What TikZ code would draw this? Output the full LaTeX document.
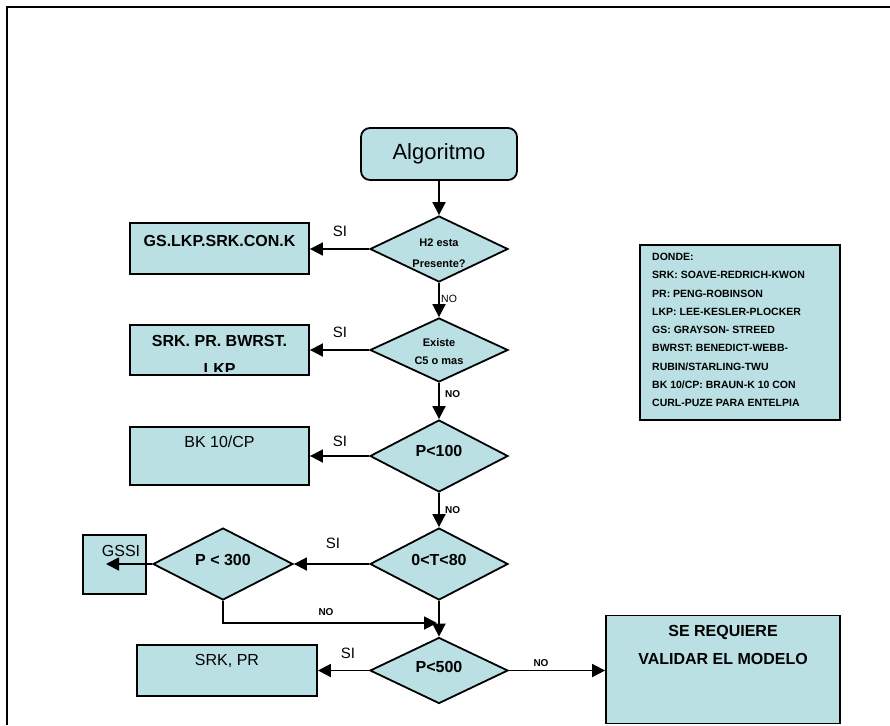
\documentclass[tikz,border=0pt]{standalone}
\usepackage{fontspec}
\setmainfont{Liberation Sans}
\usetikzlibrary{shapes.geometric,arrows.meta}
\definecolor{boxfill}{RGB}{186,224,227}
\tikzset{
  box/.style={draw=black,line width=1.8pt,fill=boxfill,inner sep=0pt},
  decision/.style={diamond,draw=black,line width=1.8pt,fill=boxfill,inner sep=0pt},
  conn/.style={line width=1.8pt,-{Triangle[length=13pt,width=13pt]}},
  boxtxt/.style={font=\fontsize{16}{18}\selectfont\bfseries,inner sep=0pt},
  boxtxtn/.style={font=\fontsize{16}{18}\selectfont,inner sep=0pt},
  dtxt/.style={font=\fontsize{11}{13}\selectfont\bfseries,inner sep=0pt},
  dbig/.style={font=\fontsize{16}{18}\selectfont\bfseries,inner sep=0pt},
  silbl/.style={font=\fontsize{15}{17}\selectfont,inner sep=0pt},
  nolbl/.style={font=\fontsize{10}{12}\selectfont\bfseries,inner sep=0pt},
  nolbln/.style={font=\fontsize{10.5}{12}\selectfont,inner sep=0pt},
  legtxt/.style={font=\fontsize{10.5}{12}\selectfont\bfseries,inner sep=0pt,anchor=west}
}
\begin{document}
\begin{tikzpicture}[x=1pt,y=-1pt]
\useasboundingbox (0,0) rectangle (890,725);
% outer frame
\draw[line width=2pt] (7,725) -- (7,7) -- (890,7);

% start
\node[box,rounded corners=9pt,minimum width=156pt,minimum height=52pt,font=\fontsize{22}{24}\selectfont] (alg) at (439,154) {Algoritmo};

% decisions
\node[decision,minimum width=138pt,minimum height=66pt] (d1) at (439,249) {};
\node[decision,minimum width=138pt,minimum height=64pt] (d2) at (439,350) {};
\node[decision,minimum width=138pt,minimum height=72pt] (d3) at (439,456) {};
\node[decision,minimum width=138pt,minimum height=72pt] (d4) at (439,564) {};
\node[decision,minimum width=140pt,minimum height=72pt] (d5) at (223,564) {};
\node[decision,minimum width=138pt,minimum height=66pt] (d6) at (439,670.5) {};

% decision texts
\node[dtxt] (t1a) at (439,243) {H2 esta};
\begin{scope}
  \clip (380,250) rectangle (500,266);
  \node[dtxt] (t1b) at (439,263.5) {Presente?};
\end{scope}
\node[dtxt] (t2a) at (439,343) {Existe};
\node[dtxt] (t2b) at (439,361) {C5 o mas};
\node[dbig] (t3) at (439,451) {P<100};
\node[dbig] (t4) at (439,560) {0<T<80};
\node[dbig] (t5) at (223,560) {P < 300};
\node[dbig] (t6) at (439,667) {P<500};

% result boxes
\node[box,minimum width=179pt,minimum height=51pt] (b1) at (219.5,248.5) {};
\node[box,minimum width=179pt,minimum height=50pt] (b2) at (219.5,350) {};
\node[box,minimum width=179pt,minimum height=58pt] (b3) at (219.5,456) {};
\node[box,minimum width=63pt,minimum height=59pt] (b4) at (114.5,564.5) {};
\node[box,minimum width=180pt,minimum height=51pt] (b5) at (227,670.5) {};
\node[box,minimum width=234pt,minimum height=108pt] (b6) at (723,669.5) {};
\node[box,minimum width=200pt,minimum height=175pt] (b7) at (740,332.5) {};

% box texts
\node[boxtxt] (x1) at (219.5,241) {GS.LKP.SRK.CON.K};
\node[boxtxt] (x2) at (219.5,341) {SRK. PR. BWRST.};
\begin{scope}
  \clip (140,355) rectangle (300,371);
  \node[boxtxt] (x2b) at (219.5,368.5) {LKP};
\end{scope}
\node[boxtxtn] (x3) at (219.5,442) {BK 10/CP};
\node[boxtxtn] (x4) at (121,551) {GSSI};
\node[boxtxtn] (x5) at (227,661) {SRK, PR};
\node[boxtxt] (x6a) at (723,632) {SE REQUIERE};
\node[boxtxt] (x6b) at (723,659) {VALIDAR EL MODELO};

% legend
\node[legtxt] (l1) at (652,257) {DONDE:};
\node[legtxt] (l2) at (652,275) {SRK: SOAVE-REDRICH-KWON};
\node[legtxt] (l3) at (652,293.5) {PR: PENG-ROBINSON};
\node[legtxt] (l4) at (652,312) {LKP: LEE-KESLER-PLOCKER};
\node[legtxt] (l5) at (652,330) {GS: GRAYSON- STREED};
\node[legtxt] (l6) at (652,348) {BWRST: BENEDICT-WEBB-};
\node[legtxt] (l7) at (652,366.5) {RUBIN/STARLING-TWU};
\node[legtxt] (l8) at (652,385) {BK 10/CP: BRAUN-K 10 CON};
\node[legtxt] (l9) at (652,403) {CURL-PUZE PARA ENTELPIA};

% connectors
\draw[conn] (alg.south) -- (d1.north);
\draw[conn] (d1.west) -- (d1.west -| b1.east);
\draw[conn] (d1.south) -- (d2.north);
\draw[conn] (d2.west) -- (d2.west -| b2.east);
\draw[conn] (d2.south) -- (d3.north);
\draw[conn] (d3.west) -- (d3.west -| b3.east);
\draw[conn] (d3.south) -- (d4.north);
\draw[conn] (d4.west) -- (d5.east);
\coordinate (gin) at (106,564);
\draw[conn] (d5.west) -- (gin);
\coordinate (merge) at (437,623);
\draw[conn] (d5.south) |- (merge);
\draw[conn] (d4.south) -- (d6.north);
\draw[conn] (d6.west) -- (d6.west -| b5.east);
\draw[conn] (d6.east) -- (d6.east -| b6.west);

% connector labels
\node[silbl] (s1) at (340,231) {SI};
\node[silbl] (s2) at (340,332) {SI};
\node[silbl] (s3) at (340,441) {SI};
\node[silbl] (s4) at (333,543) {SI};
\node[silbl] (s5) at (348,653) {SI};
\node[nolbln,anchor=west] (n1) at (441,299) {NO};
\node[nolbl,anchor=west] (n2) at (445,394) {NO};
\node[nolbl,anchor=west] (n3) at (445,510) {NO};
\node[nolbl] (n4) at (326,612) {NO};
\node[nolbl] (n5) at (541,663) {NO};
\end{tikzpicture}
\end{document}
